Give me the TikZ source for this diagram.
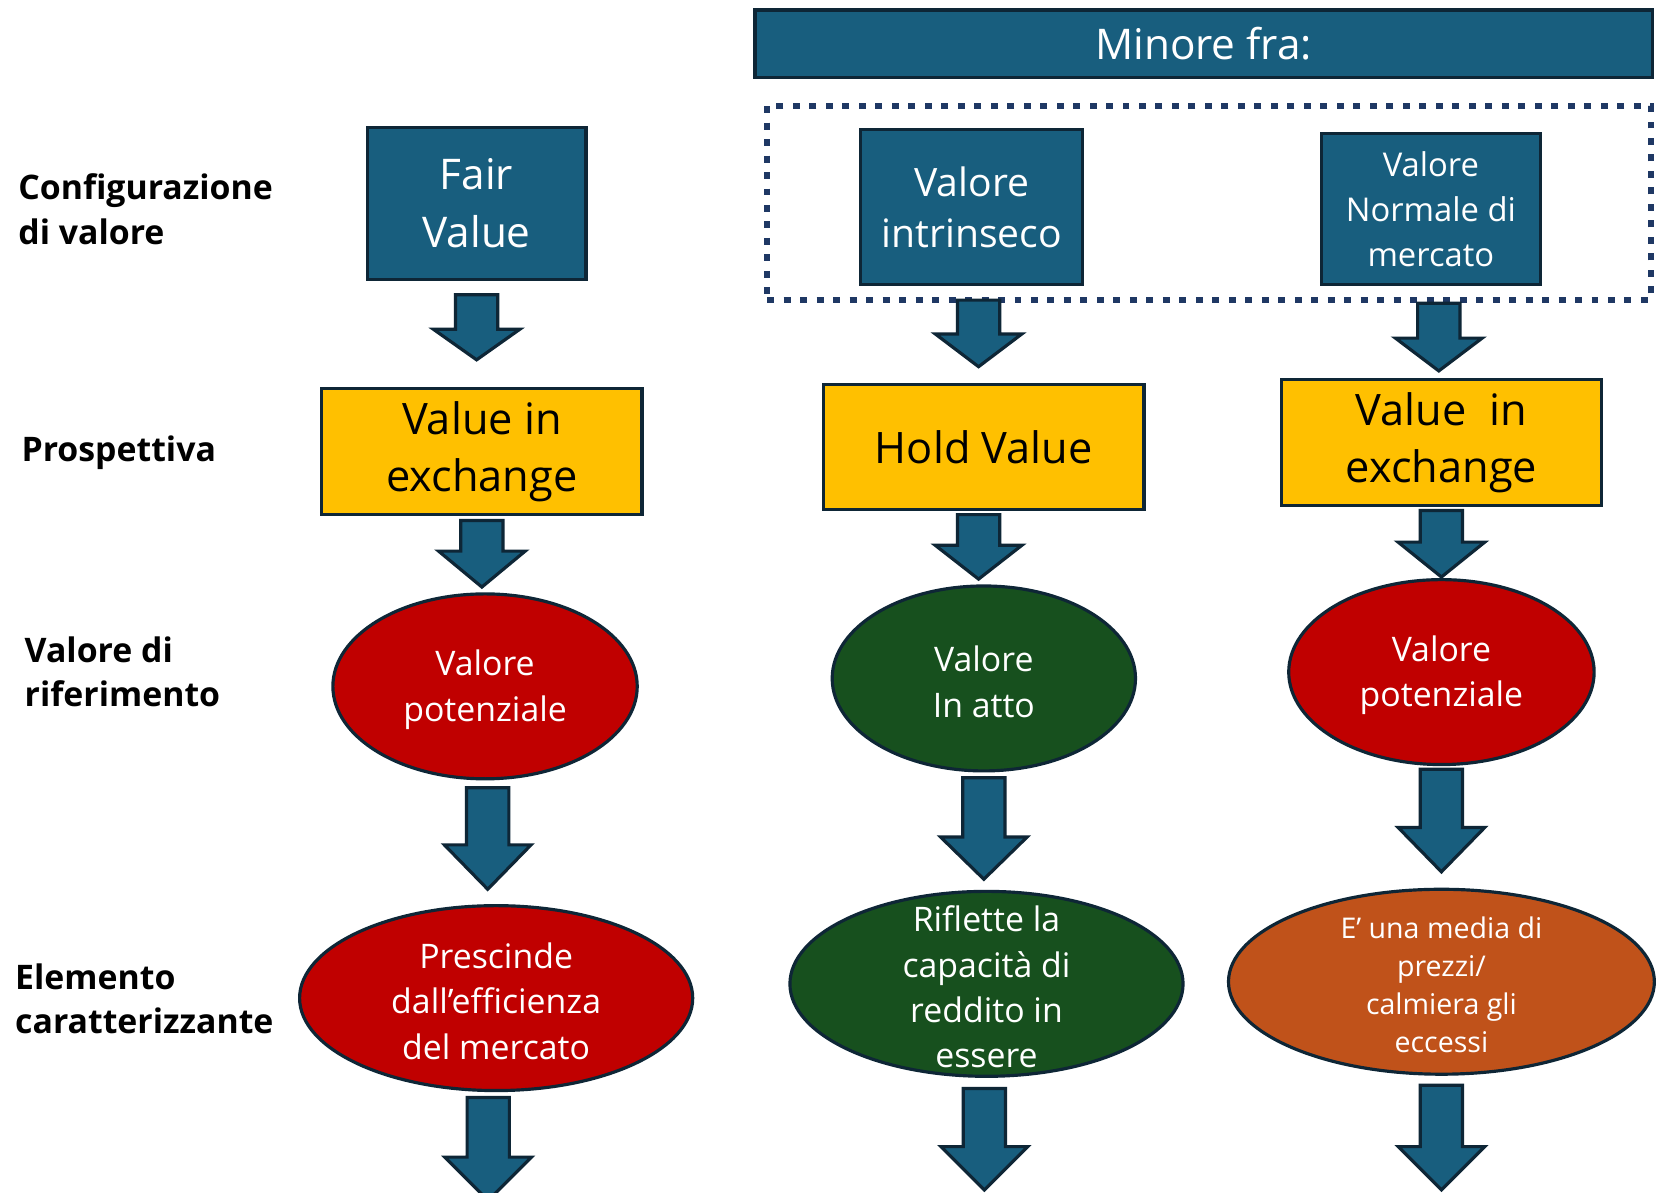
\documentclass[tikz,border=0pt]{standalone}
\usepackage{fontspec}
\setmainfont{Open Sans}
\usetikzlibrary{calc,shapes.geometric}
\definecolor{boxblue}{HTML}{185E7E}
\definecolor{edge}{HTML}{0E2636}
\definecolor{dotblue}{HTML}{1F3864}
\definecolor{gold}{HTML}{FFC000}
\definecolor{darkred}{HTML}{C00000}
\definecolor{forest}{HTML}{17501E}
\definecolor{rust}{HTML}{C0521A}

\begin{document}
\begin{tikzpicture}[x=0.5pt,y=-0.5pt,
  bluebox/.style={draw=edge, fill=boxblue, line width=1.5pt, text=white, align=center, inner sep=0pt},
  goldbox/.style={draw=edge, fill=gold, line width=1.5pt, text=black, align=center, inner sep=0pt,
    minimum width=151.5pt, minimum height=59.5pt, font=\fontsize{20.5}{27}\selectfont},
  oval/.style={ellipse, draw=edge, line width=1.5pt, inner sep=0pt, minimum height=87.5pt},
  ovaltext/.style={text=white, align=center, inner sep=0pt, yshift=-1.5pt, font=\fontsize{16}{21.5}\selectfont},
  rowlabel/.style={anchor=west, align=left, inner sep=0pt, font=\bfseries\fontsize{16}{21}\selectfont},
  bka/.style={draw=edge, fill=boxblue, line width=1.5pt, miter limit=4,
    to path={let \p1=(\tikztostart), \p2=(\tikztotarget) in
      ({\x1-10pt},\y1) -- ({\x1+10pt},\y1) -- ({\x1+10pt},{\y2+#1}) -- ({\x1+20.5pt},{\y2+#1})
      -- (\x1,\y2) -- ({\x1-20.5pt},{\y2+#1}) -- ({\x1-10pt},{\y2+#1}) -- cycle}},
]
\path[use as bounding box, fill=white] (0,0) rectangle (1568,1128);

% row headings
\node[rowlabel] (lab1) at (17,198) {Configurazione\\di valore};
\node[rowlabel] (lab2) at (20,428) {Prospettiva};
\node[rowlabel] (lab3) at (23,635.5) {Valore di\\riferimento};
\node[rowlabel] (lab4) at (14,945) {Elemento\\caratterizzante};

% heading and dotted group
\node[bluebox, minimum width=424.5pt, minimum height=32pt, font=\fontsize{20}{24}\selectfont] (minore) at (1139,41.5) {Minore fra:};
\node[draw=dotblue, line width=3pt, dash pattern=on 3.3pt off 4.5pt, minimum width=418pt, minimum height=92pt, inner sep=0pt] (frame) at (1144,192) {};

% value configurations
\node[bluebox, minimum width=103.5pt, minimum height=72pt, font=\fontsize{20}{27.5}\selectfont] (fv) at (451,192.5) {Fair\\Value};
\node[bluebox, minimum width=105pt, minimum height=73.5pt, font=\fontsize{18.5}{24}\selectfont] (vi) at (919.5,196) {Valore\\intrinseco};
\node[bluebox, minimum width=103.5pt, minimum height=71.5pt, font=\fontsize{15.5}{21.5}\selectfont] (vn) at (1354,198) {Valore\\Normale di\\mercato};

% perspectives
\node[goldbox] (ex1) at (456,427.5) {Value in\\exchange};
\node[goldbox] (hold) at (931,423) {Hold Value};
\node[goldbox] (ex2) at (1364,419) {Value~ in\\exchange};

% reference values
\node[oval, fill=darkred, minimum width=144pt] (pot1) at (459,649.5) {};
\node[ovaltext] (pot1t) at (pot1) {Valore\\potenziale};
\node[oval, fill=forest, minimum width=143.5pt] (att) at (931,642) {};
\node[ovaltext] (attt) at (att) {Valore\\In atto};
\node[oval, fill=darkred, minimum width=144.5pt] (pot2) at (1364,636) {};
\node[ovaltext] (pot2t) at (pot2) {Valore\\potenziale};

% characterising elements
\node[oval, fill=darkred, minimum width=186pt] (pre) at (469.5,944.5) {};
\node[ovaltext] (pret) at (pre) {Prescinde\\dall’efficienza\\del mercato};
\node[oval, fill=forest, minimum width=186pt] (rif) at (933.5,931) {};
\node[ovaltext] (rift) at (rif) {Riflette la\\capacità di\\reddito in\\essere};
\node[oval, fill=rust, minimum width=201.5pt] (med) at (1364,929) {};
\node[ovaltext, font=\fontsize{13.5}{18}\selectfont] (medt) at (med) {E’ una media di\\prezzi/\\calmiera gli\\eccessi};

% open ends of the last arrows
\coordinate (endL) at (462,1136);
\coordinate (endM) at (931.5,1126);
\coordinate (endR) at (1364,1126);

% block arrows
\draw[bka=14.5pt] ([yshift=-6.5pt]fv.south) to ([yshift=13pt]ex1.north);
\draw[bka=17pt] ([yshift=-2pt]ex1.south) to ([yshift=2.5pt]pot1.north);
\draw[bka=21pt] ([xshift=1.25pt,yshift=-3.5pt]pot1.south) to ([yshift=7pt]pre.north);
\draw[bka=20.5pt] ([xshift=-3.75pt,yshift=-2.5pt]pre.south) to (endL);

\draw[bka=15.5pt] ([xshift=3.25pt,yshift=-6.5pt]vi.south) to ([yshift=7.5pt]hold.north);
\draw[bka=16pt] ([xshift=-2.5pt,yshift=-1.5pt]hold.south) to ([yshift=2.5pt]att.north);
\draw[bka=20pt] ([yshift=-2.5pt]att.south) to ([yshift=5pt]rif.north);
\draw[bka=20.5pt] ([xshift=-1pt,yshift=-5pt]rif.south) to (endM);

\draw[bka=15.5pt] ([xshift=3.75pt,yshift=-8pt]vn.south) to ([yshift=3.5pt]ex2.north);
\draw[bka=16.5pt] ([yshift=-1.5pt]ex2.south) to ([yshift=0.5pt]pot2.north);
\draw[bka=21pt] ([yshift=-1.5pt]pot2.south) to ([yshift=7.5pt]med.north);
\draw[bka=20.5pt] ([yshift=-4.5pt]med.south) to (endR);
\end{tikzpicture}
\end{document}
